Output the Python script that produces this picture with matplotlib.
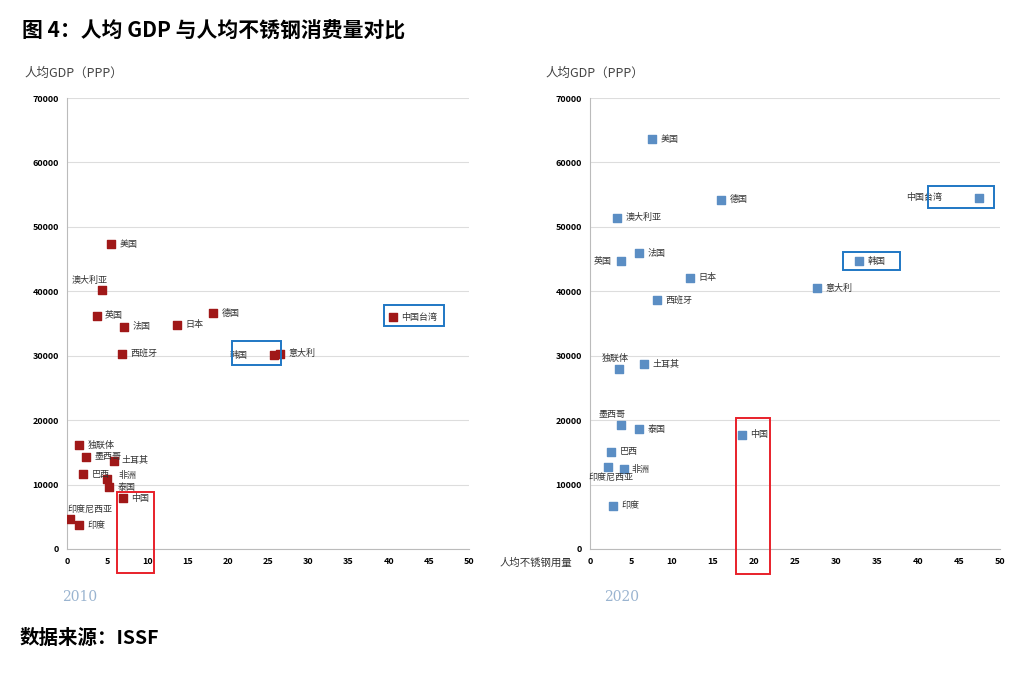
import matplotlib.pyplot as plt
from matplotlib.patches import Rectangle

plt.rcParams['font.family'] = ['Noto Sans CJK SC', 'DejaVu Sans']

# 2010
names_2010 = ['美国', '澳大利亚', '英国', '法国', '日本', '德国', '中国台湾', '西班牙', '韩国', '意大利',
              '独联体', '墨西哥', '土耳其', '巴西', '非洲', '泰国', '中国', '印度尼西亚', '印度']
x_2010 = [5.5, 4.35, 3.7, 7.1, 13.7, 18.2, 40.5, 6.8, 25.7, 26.5, 1.5, 2.4, 5.8, 2.0, 5.0, 5.2, 7.0, 0.4, 1.5]
y_2010 = [47300, 40200, 36200, 34500, 34800, 36600, 36000, 30300, 30100, 30300,
          16100, 14300, 13700, 11600, 10900, 9600, 7900, 4700, 3700]

# 2020
names_2020 = ['美国', '德国', '中国台湾', '澳大利亚', '法国', '英国', '韩国', '日本', '意大利', '西班牙',
              '土耳其', '独联体', '墨西哥', '泰国', '中国', '巴西', '印度尼西亚', '非洲', '印度']
x_2020 = [7.56, 16.0, 47.4, 3.3, 6.0, 3.8, 32.8, 12.2, 27.7, 8.2, 6.6, 3.5, 3.8, 6.0, 18.5, 2.6, 2.2, 4.1, 2.8]
y_2020 = [63600, 54200, 54500, 51400, 45900, 44700, 44700, 42100, 40500, 38600,
          28700, 27900, 19200, 18600, 17700, 15100, 12700, 12400, 6700]

# label offsets in points (default: right of marker)
off_2010 = {'澳大利亚': (-22, 7), '韩国': (-32, 0), '印度尼西亚': (-2, 7), '非洲': (8, 2)}
off_2020 = {'中国台湾': (-52, 0), '英国': (-20, 0), '独联体': (-12, 8), '墨西哥': (-16, 8),
            '印度尼西亚': (-14, -7)}

fig = plt.figure(figsize=(10.34, 6.76), dpi=100)
ax1 = fig.add_axes([67/1034, 1-549/676, 402/1034, 451/676])
ax2 = fig.add_axes([590/1034, 1-549/676, 410/1034, 451/676])


def draw(ax, xs, ys, names, offs, color):
    ax.scatter(xs, ys, marker='s', s=38, color=color, zorder=3)
    for x, y, n in zip(xs, ys, names):
        dx, dy = offs.get(n, (6, 0))
        ax.annotate(n, (x, y), xytext=(dx, dy), textcoords='offset points',
                    fontsize=6.5, va='center', ha='left', color='#333333')
    ax.set_xlim(0, 50)
    ax.set_ylim(0, 70000)
    ax.set_xticks(range(0, 51, 5))
    ax.set_yticks(range(0, 70001, 10000))
    ax.tick_params(labelsize=6.5, length=0, pad=6)
    for t in ax.get_xticklabels() + ax.get_yticklabels():
        t.set_fontweight('bold')
    ax.grid(axis='y', color='#dddddd', lw=0.8)
    ax.set_axisbelow(True)
    for s in ['top', 'right']:
        ax.spines[s].set_visible(False)
    for s in ['left', 'bottom']:
        ax.spines[s].set_color('#bbbbbb')


draw(ax1, x_2010, y_2010, names_2010, off_2010, '#a01818')
draw(ax2, x_2020, y_2020, names_2020, off_2020, '#5b8ec4')

def box(ax, x0, x1, y0, y1, color):
    ax.add_patch(Rectangle((x0, y0), x1-x0, y1-y0, fill=False, ec=color, lw=1.4,
                           clip_on=False, zorder=4))

box(ax1, 6.2, 10.8, -3700, 8800, '#e8202a')
box(ax1, 20.5, 26.6, 28600, 32300, '#1f77c4')
box(ax1, 39.4, 46.9, 34600, 37900, '#1f77c4')
box(ax2, 17.8, 22.0, -3900, 20300, '#e8202a')
box(ax2, 30.9, 37.8, 43300, 46100, '#1f77c4')
box(ax2, 41.2, 49.3, 52900, 56300, '#1f77c4')

fig.text(22/1034, 1-31/676, '图 4：人均 GDP 与人均不锈钢消费量对比', fontsize=15, fontweight='bold', va='center')
fig.text(24/1034, 1-73/676, '人均GDP（PPP）', fontsize=9, color='#444444', va='center')
fig.text(545/1034, 1-73/676, '人均GDP（PPP）', fontsize=9, color='#444444', va='center')
fig.text(500/1034, 1-563/676, '人均不锈钢用量', fontsize=7.5, color='#333333', va='center')
fig.text(62/1034, 1-597/676, '2010', fontsize=10, color='#9ab4d0', family='serif', va='center')
fig.text(604/1034, 1-597/676, '2020', fontsize=10, color='#9ab4d0', family='serif', va='center')
fig.text(20/1034, 1-638/676, '数据来源：ISSF', fontsize=14, fontweight='bold', va='center')

fig.savefig('out.png', dpi=100)
